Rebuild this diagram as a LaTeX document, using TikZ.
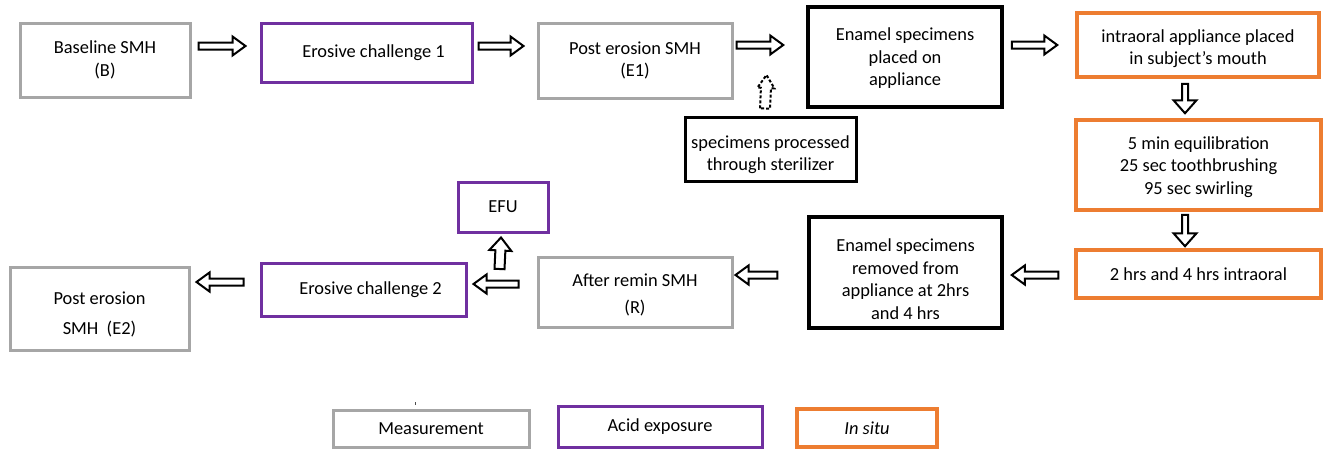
\documentclass[tikz,border=0pt]{standalone}
\usepackage{fontspec}
\setmainfont{Carlito}
\usetikzlibrary{calc}
\definecolor{mgray}{HTML}{A6A6A6}
\definecolor{mpurple}{HTML}{7030A0}
\definecolor{morange}{HTML}{ED7D31}
\newcommand\boxfont{\fontsize{18.4}{22.5}\selectfont}
% strut that pushes a text block down inside its box
\newcommand\lowerby[1]{\rule{0pt}{\dimexpr 12.5pt+2\dimexpr #1\relax\relax}}
\begin{document}
\begin{tikzpicture}[x=1pt,y=-1pt,
  box/.style={draw, rectangle, align=center, inner sep=0pt, font=\boxfont, fill=white},
  gbox/.style={box, draw=mgray, line width=3pt},
  pbox/.style={box, draw=mpurple, line width=3pt},
  obox/.style={box, draw=morange, line width=3.5pt},
  kbox/.style={box, draw=black, line width=3.5pt},
  % block arrow: half shaft width, half head width, head length
  blockarrow/.style n args={3}{to path={
    let \p1=(\tikztostart), \p2=(\tikztotarget),
        \n1={atan2(\y2-\y1,\x2-\x1)},
        \n2={veclen(\x2-\x1,\y2-\y1)-#3} in
    ($(\p1)+(\n1+90:#1)$)
    -- ($(\p1)+(\n1:\n2)+(\n1+90:#1)$)
    -- ($(\p1)+(\n1:\n2)+(\n1+90:#2)$)
    -- (\p2)
    -- ($(\p1)+(\n1:\n2)+(\n1-90:#2)$)
    -- ($(\p1)+(\n1:\n2)+(\n1-90:#1)$)
    -- ($(\p1)+(\n1-90:#1)$)
    -- cycle}},
  flow/.style={draw=black, fill=white, line width=2pt, line join=miter},
  harrow/.style={flow, blockarrow={3.5pt}{9.5pt}{13}},
  varrow/.style={flow, blockarrow={3pt}{11.5pt}{13}},
  uarrow/.style={flow, blockarrow={5pt}{11pt}{13}},
  darrow/.style={flow, dash pattern=on 3pt off 2pt, blockarrow={5pt}{8.5pt}{13}}
]
\useasboundingbox (0,0) rectangle (1325,448);

% process boxes
\node[gbox, minimum width=170, minimum height=74] (B) at (105,60) {Baseline SMH\\(B)};
\node[pbox, minimum width=211, minimum height=59] (EC1) at (366.5,52.5) {\hspace*{14pt}Erosive challenge 1};
\node[gbox, minimum width=194, minimum height=75] (E1) at (635,60.5) {Post erosion SMH\\(E1)};
\node[kbox, minimum width=194, minimum height=100] (EP) at (905,57) {\lowerby{1.5pt}Enamel specimens\\placed on\\appliance};
\node[obox, minimum width=242, minimum height=64] (IA) at (1198,45) {\lowerby{4pt}intraoral appliance placed\\in subject’s mouth};
\node[obox, minimum width=245, minimum height=90] (EQ) at (1198.5,165) {\lowerby{2pt}5 min equilibration\\25 sec toothbrushing\\95 sec swirling};
\node[obox, minimum width=245, minimum height=48] (HRS) at (1198.5,274) {2 hrs and 4 hrs intraoral};
\node[kbox, minimum width=193, minimum height=111] (ER) at (905.5,272.5) {\lowerby{7pt}Enamel specimens\\removed from\\appliance at 2hrs\\and 4 hrs};
\node[gbox, minimum width=194, minimum height=70] (R) at (635,292) {\lowerby{3pt}After remin SMH\\[4.5pt](R)};
\node[pbox, minimum width=205, minimum height=53] (EC2) at (363.5,289.5) {\hspace*{14pt}Erosive challenge 2};
\node[gbox, minimum width=179, minimum height=83] (E2) at (99.5,308.5) {\lowerby{6pt}Post erosion\\[7.5pt]SMH\ \ (E2)};
\node[pbox, minimum width=90, minimum height=50] (EFU) at (503,207) {EFU};
\node[kbox, line width=3pt, minimum width=171, minimum height=64] (SP) at (770.5,149) {\lowerby{6pt}specimens processed\\through sterilizer};

% legend
\node[gbox, minimum width=196, minimum height=37] (L1) at (431,428.5) {Measurement};
\node[pbox, minimum width=204, minimum height=41] (L2) at (660,426.5) {Acid exposure};
\node[obox, minimum width=140, minimum height=38] (L3) at (867,428) {\itshape In situ};
\draw[line width=0.8pt, black!70] (415,402) -- (415,405);

% helper points
\coordinate (split) at ([shift={(-37,-23)}]R.west);
\coordinate (join) at ([shift={(33,14.5)}]E1.east);

% flow arrows
\draw[harrow] ([shift={(7,-14)}]B.east) to ([shift={(-14,-6.5)}]EC1.west);
\draw[harrow] ([shift={(5,-6.5)}]EC1.east) to ([shift={(-13,-14.5)}]E1.west);
\draw[harrow] ([shift={(3,-15.5)}]E1.east) to ([shift={(-23,-12)}]EP.west);
\draw[harrow] ([shift={(8,-12)}]EP.east) to ([shift={(-18,0)}]IA.west);
\draw[varrow] ([shift={(-13,5)}]IA.south) to ([shift={(-13.5,-5)}]EQ.north);
\draw[varrow] ([shift={(-13.5,3)}]EQ.south) to ([shift={(-13.5,-2)}]HRS.north);
\draw[harrow] ([shift={(-16,1)}]HRS.west) to ([shift={(8,2.5)}]ER.east);
\draw[harrow] ([shift={(-30,2.5)}]ER.west) to ([shift={(2,-17)}]R.east);
\draw[harrow] ([shift={(-18,-8)}]R.west) to ([shift={(6,-5.5)}]EC2.east);
\draw[harrow] ([shift={(-16,-7.5)}]EC2.west) to ([shift={(6,-26.5)}]E2.east);
\draw[uarrow] (split) to ([shift={(-2,4)}]EFU.south);
\draw[darrow] ([shift={(-5.5,-7)}]SP.north) to (join);
\end{tikzpicture}
\end{document}
